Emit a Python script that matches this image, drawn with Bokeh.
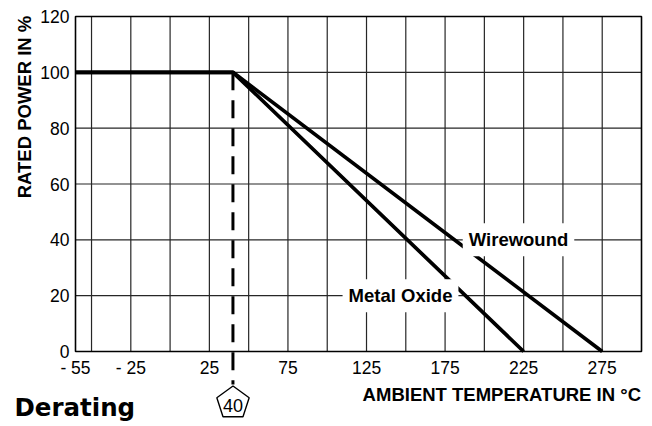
import math
from bokeh.plotting import figure
from bokeh.models import Label, Arrow, PolyAnnotation, Range1d
from bokeh.core.properties import value
from bokeh.embed import file_html
from bokeh.resources import INLINE

# ---------------- data ----------------
temp_ticks = [-55, -25, 25, 75, 125, 175, 225, 275]
tick_labels = ["- 55", "- 25", "25", "75", "125", "175", "225", "275"]
grid_lines = [-50, -25, 0, 25, 50, 75, 100, 125, 150, 175, 200, 225, 250, 275]
power_ticks = [0, 20, 40, 60, 80, 100, 120]
knee_temp = 40
rated_power = [100, 100, 0]
metal_oxide_temp = [-55, 40, 225]
wirewound_temp = [-55, 40, 275]
max_temp = 300

FONT = "Liberation Sans"
LEFT_CELL = 35.2   # width (in 25-degree-cell units * 25) of the -55 .. -25 section


def to_axis(t):
    # the section between -55 and -25 is drawn compressed, as in the original chart
    return t if t >= -25 else -25 + (t + 25) * LEFT_CELL / 30.0


X0, X1 = to_axis(-55), max_temp    # plotted temperature span
Y0, Y1 = 0, 120                    # plotted power span
W, H = 652, 426
L_PX, R_PX, T_PX, B_PX = 75, 641, 16, 351   # chart box on the canvas


def px_to_x(px):
    return X0 + (px - L_PX) * (X1 - X0) / (R_PX - L_PX)


def px_to_y(py):
    return Y0 + (B_PX - py) * (Y1 - Y0) / (B_PX - T_PX)


p = figure(width=W, height=H,
           x_range=Range1d(px_to_x(0), px_to_x(W)), y_range=Range1d(px_to_y(H), px_to_y(0)),
           x_axis_type=None, y_axis_type=None, tools="",
           output_backend="svg", toolbar_location=None,
           min_border_left=0, min_border_right=0, min_border_top=0, min_border_bottom=0)
p.background_fill_color = "white"
p.border_fill_color = "white"
p.outline_line_color = None
p.grid.visible = False

# grid lines
p.segment(x0=grid_lines, y0=[Y0] * len(grid_lines), x1=grid_lines, y1=[Y1] * len(grid_lines),
          line_color="#262626", line_width=1.2)
p.segment(x0=[X0] * len(power_ticks), y0=power_ticks, x1=[X1] * len(power_ticks), y1=power_ticks,
          line_color="#262626", line_width=1.2)
# chart box
p.quad(left=[X0], right=[X1], bottom=[Y0], top=[Y1], fill_color=None,
       line_color="black", line_width=1.6)

# tick labels
xt = [to_axis(t) for t in temp_ticks]
p.text(x=xt, y=[Y0] * len(xt), text=tick_labels, text_align="center", text_baseline="middle",
       y_offset=16, text_font=value(FONT), text_font_size="17.5px", text_color="black")
p.text(x=[X0] * len(power_ticks), y=power_ticks, text=[str(v) for v in power_ticks],
       text_align="right", text_baseline="middle", x_offset=-6,
       text_font=value(FONT), text_font_size="17.5px", text_color="black")

# derating curves
p.line([to_axis(t) for t in metal_oxide_temp], rated_power, line_width=3.7, line_color="black")
p.line([to_axis(t) for t in wirewound_temp], rated_power, line_width=3.7, line_color="black")


def add_label(text, x, y, size, bold=False, align="center", baseline="middle", angle=0.0,
              font=FONT, box=False):
    lbl = Label(x=x, y=y, text=text, text_align=align, text_baseline=baseline, angle=angle,
                text_font=font, text_font_size=size,
                text_font_style="bold" if bold else "normal", text_color="black")
    if box:
        lbl.background_fill_color = "white"
        lbl.background_fill_alpha = 1.0
        if "padding" in lbl.properties():
            lbl.padding = 6
    p.add_layout(lbl)


# series labels with white boxes
add_label("Wirewound", px_to_x(518), 40, "18.5px", bold=True, box=True)
add_label("Metal Oxide", px_to_x(400), 20, "18.5px", bold=True, box=True)

# dashed marker at the knee temperature
p.add_layout(Arrow(end=None, x_start=to_axis(knee_temp), y_start=100,
                   x_end=to_axis(knee_temp), y_end=px_to_y(384),
                   line_color="black", line_width=3, line_dash="18 10", line_cap="butt"))

cx, cy, R = 232.5, 402.5, 17.0
pent_x, pent_y = [], []
for k in range(5):
    a = math.radians(90 + 72 * k)
    pent_x.append(px_to_x(cx + R * math.cos(a)))
    pent_y.append(px_to_y(cy - R * math.sin(a)))
p.add_layout(PolyAnnotation(xs=pent_x, ys=pent_y, fill_color="white", fill_alpha=1.0,
                            line_color="black", line_alpha=1.0, line_width=1.4))
add_label(str(knee_temp), to_axis(knee_temp), px_to_y(404.5), "18px")

# axis titles
add_label("RATED POWER IN %", px_to_x(24), px_to_y(106.5), "18.5px", bold=True,
          angle=math.pi / 2)
add_label("AMBIENT TEMPERATURE IN °C", px_to_x(640.5), px_to_y(394), "18.5px", bold=True,
          align="right")

# caption
add_label("Derating", px_to_x(14), px_to_y(407), "24.5px", bold=True, align="left",
          baseline="middle", font="DejaVu Sans")

open("out.html", "w").write(file_html(p, INLINE))
